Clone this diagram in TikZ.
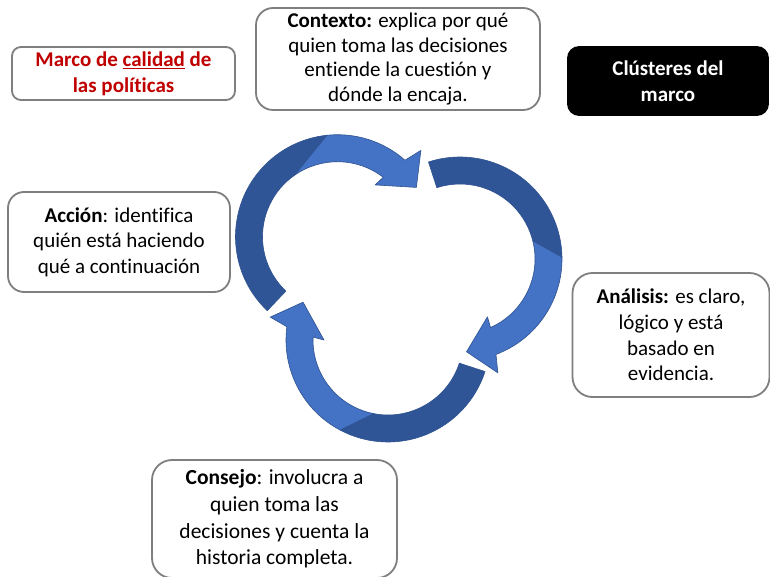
\documentclass[tikz,border=0pt]{standalone}
\usepackage{fontspec}
\setmainfont{Carlito}[Ligatures=NoCommon]
\usetikzlibrary{calc}
\definecolor{lightblue}{HTML}{4472C4}
\definecolor{darkblue}{HTML}{2F5597}
\definecolor{edgeblue}{HTML}{2F528F}
\definecolor{boxgray}{HTML}{7F7F7F}
\definecolor{markred}{HTML}{C00000}
\newcommand{\cyclearrow}[7]{% #1 centre, #2 tail, #3 outer twist, #4 inner twist, #5 outer barb, #6 inner barb, #7 tip
  \pgfmathsetmacro{\bandout}{#5+0.32*(#6-#5)}
  \pgfmathsetmacro{\bandin}{#5+0.80*(#6-#5)}
  \filldraw[darkpart] ($(#1)+(#2:102)$) arc[start angle=#2, end angle=#3, radius=102pt]
     -- ($(#1)+(#4:75)$) arc[start angle=#4, end angle=#2, radius=75pt] -- cycle;
  \filldraw[lightpart] ($(#1)+(#4:75)$) -- ($(#1)+(#3:102)$)
     arc[start angle=#3, end angle=\bandout, radius=102pt]
     -- ($(#1)+(#5:120)$) -- ($(#1)+(#7:93)$) -- ($(#1)+(#6:64)$)
     -- ($(#1)+(\bandin:75)$) arc[start angle=\bandin, end angle=#4, radius=75pt] -- cycle;
}
\begin{document}
\begin{tikzpicture}[x=1pt,y=1pt,
  infobox/.style={draw=boxgray, line width=1.8pt, fill=white, align=center,
    inner sep=0pt, font=\fontsize{21}{25.6}\selectfont},
  darkpart/.style={fill=darkblue, draw=edgeblue, line width=0.6pt, line join=round},
  lightpart/.style={fill=lightblue, draw=edgeblue, line width=0.6pt, line join=round}]
\useasboundingbox (0,0) rectangle (770,576);
\clip (0,0) rectangle (770,576);
\fill[white] (0,0) rectangle (770,576);

% boxes
\node[infobox, minimum width=223pt, minimum height=53pt, rounded corners=9pt,
  text=markred, font=\fontsize{21}{25.6}\selectfont\bfseries] (marco) at (123.5,502.5)
  {Marco de \underline{calidad} de\\las políticas};
\node[infobox, minimum width=284pt, minimum height=102pt, rounded corners=17pt,
  font=\fontsize{21}{24.8}\selectfont] (contexto) at (398,517)
  {\textbf{Contexto:} explica por qué\\quien toma las decisiones\\entiende la cuestión y\\dónde la encaja.};
\node[infobox, fill=black, draw=black, minimum width=200pt, minimum height=68pt, rounded corners=11pt,
  text=white, font=\fontsize{21}{25.6}\selectfont\bfseries] (clusters) at (668,495)
  {Clústeres del\\marco};
\node[infobox, minimum width=222pt, minimum height=100pt, rounded corners=16pt] (accion) at (119,334)
  {\textbf{Acción}: identifica\\quién está haciendo\\qué a continuación};
\node[infobox, minimum width=197pt, minimum height=124pt, rounded corners=20pt] (analisis) at (671,241)
  {\textbf{Análisis:} es claro,\\lógico y está\\basado en\\evidencia.};
\node[infobox, minimum width=245pt, minimum height=118pt, rounded corners=20pt,
  font=\fontsize{21.5}{26.7}\selectfont] (consejo) at (274.5,57)
  {\textbf{Consejo}: involucra a\\quien toma las\\decisiones y cuenta la\\historia completa.};

% cycle arrows
\coordinate (c1) at (337.5,339.3);
\coordinate (c2) at (460,317);
\coordinate (c3) at (388,236);
\cyclearrow{c1}{226.5}{96}{125}{46}{54}{32}
\cyclearrow{c2}{108}{1}{14}{-71.6}{-64.6}{-86}
\cyclearrow{c3}{-18}{-118}{-101}{-191}{-180}{-204}
\end{tikzpicture}
\end{document}
